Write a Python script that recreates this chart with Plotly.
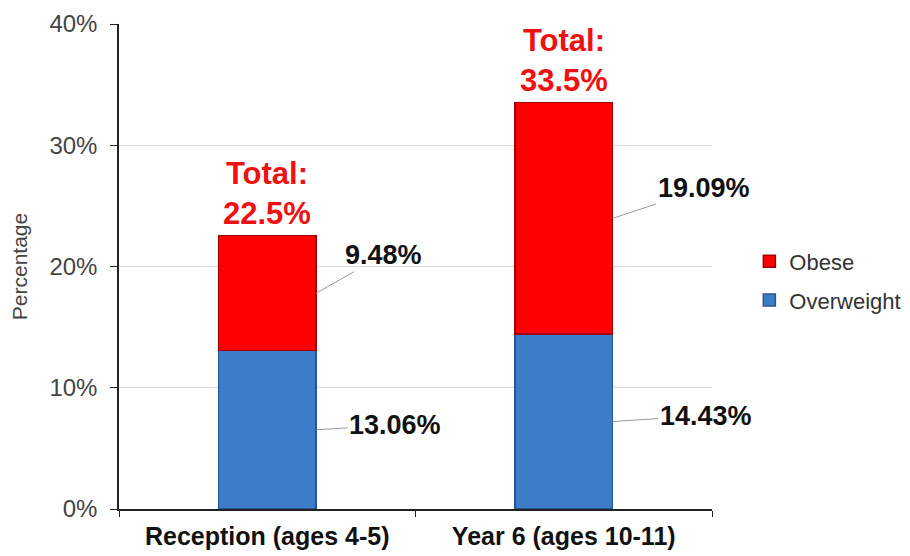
import plotly.graph_objects as go

categories = ["Reception (ages 4-5)", "Year 6 (ages 10-11)"]
overweight = [13.06, 14.43]
obese = [9.48, 19.09]
tick_vals = [0, 10, 20, 30, 40]
tick_text = ["0%", "10%", "20%", "30%", "40%"]

BAR_W = 0.33
FONT = "Liberation Sans, Arial, sans-serif"
fig = go.Figure()
fig.add_trace(go.Bar(x=categories, y=overweight, name="Overweight", width=BAR_W,
                     legendrank=2, legendgroup="ow",
                     marker=dict(color="#3C7DC7", line=dict(color="#24568F", width=1.5))))
fig.add_trace(go.Bar(x=categories, y=obese, name="Obese", width=BAR_W,
                     legendrank=1, legendgroup="ob",
                     marker=dict(color="#FF0000", line=dict(color="#A00000", width=1.5))))

# value labels with leader lines
offsets_ow = [(79, -5), (93, -6)]
offsets_ob = [(67, -38), (91, -30)]
for i, c in enumerate(categories):
    xr = i + BAR_W / 2
    ax, ay = offsets_ow[i]
    fig.add_annotation(x=xr, y=overweight[i] / 2, text=f"<b>{overweight[i]:.2f}%</b>",
                       showarrow=True, arrowhead=0, arrowcolor="#999999", arrowwidth=1,
                       ax=ax, ay=ay, font=dict(size=27, color="#111111", family=FONT))
    ax, ay = offsets_ob[i]
    fig.add_annotation(x=xr, y=overweight[i] + obese[i] / 2, text=f"<b>{obese[i]:.2f}%</b>",
                       showarrow=True, arrowhead=0, arrowcolor="#999999", arrowwidth=1,
                       ax=ax, ay=ay, font=dict(size=27, color="#111111", family=FONT))
    total = overweight[i] + obese[i]
    fig.add_annotation(x=i, y=total, text=f"<b>Total:<br>{total:.1f}%</b>",
                       showarrow=False, yanchor="bottom", yshift=3,
                       font=dict(size=31, color="#EE1111", family=FONT))

fig.update_layout(
    barmode="stack",
    width=902, height=548,
    margin=dict(l=111, r=198, t=16, b=47, autoexpand=False),
    plot_bgcolor="white", paper_bgcolor="white",
    font=dict(family=FONT, color="#333333"),
    legend=dict(x=1.063, y=0.47, xanchor="left", yanchor="middle",
                traceorder="grouped", tracegroupgap=7,
                font=dict(size=22, color="#333333", family=FONT)),
    xaxis=dict(showline=True, linecolor="#222222", linewidth=1.5, ticks="outside",
               tickson="boundaries", ticklen=6, tickcolor="#222222",
               tickfont=dict(size=25, color="#111111", family=FONT),
               ticklabelstandoff=4, automargin=False,
               range=[-0.5, 1.5]),
    yaxis=dict(range=[0, 40], tickvals=tick_vals, ticktext=tick_text,
               showline=True, linecolor="#222222", linewidth=1.5, ticks="outside",
               ticklen=7, tickcolor="#222222", showgrid=True, gridcolor="#D9D9D9",
               tickfont=dict(size=24, color="#444444", family=FONT),
               ticklabelstandoff=8, automargin=False,
               title=dict(text="Percentage", font=dict(size=21, color="#444444", family=FONT),
                          standoff=19)),
)
fig.update_xaxes(ticktext=[f"<b>{c}</b>" for c in categories], tickvals=categories)

fig.write_html("out.html")
